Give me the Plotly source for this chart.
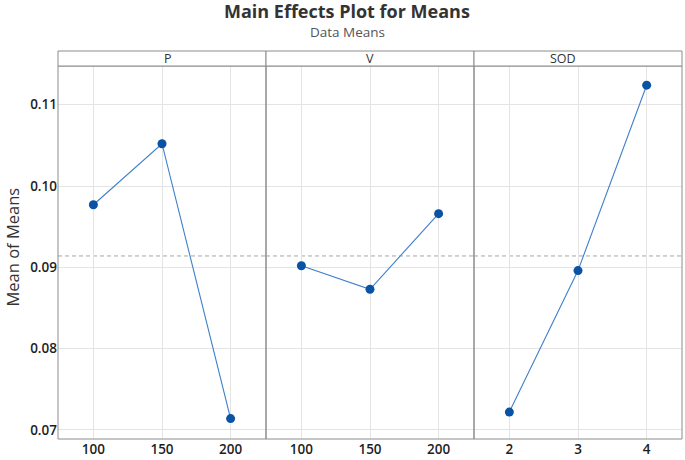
import plotly.graph_objects as go

factors = ["P", "V", "SOD"]
levels = {
    "P": [100, 150, 200],
    "V": [100, 150, 200],
    "SOD": [2, 3, 4],
}
means = {
    "P": [0.0977, 0.1052, 0.0714],
    "V": [0.0902, 0.0873, 0.0966],
    "SOD": [0.0722, 0.0896, 0.1124],
}
grand_mean = 0.0914
y_ticks = [0.07, 0.08, 0.09, 0.10, 0.11]
y_tick_text = ["0.07", "0.08", "0.09", "0.10", "0.11"]
x_ranges = {"P": [74.2, 225.8], "V": [74.2, 225.8], "SOD": [1.485, 4.515]}

W, H = 685, 460
ml, mr, mt, mb = 58, 3, 66, 21
plot_h = H - mt - mb
strip_h = 15

fig = go.Figure()
axis_col = "#8c8c8c"
grid_col = "#e4e4e4"
tick_font = dict(family="Open Sans", size=13.5, color="#1e1e1e", weight=600)

for i, f in enumerate(factors):
    xa = "x" if i == 0 else f"x{i+1}"
    ya = "y" if i == 0 else f"y{i+1}"
    fig.add_trace(go.Scatter(
        x=levels[f], y=means[f], mode="lines+markers",
        line=dict(color="#3f7fcc", width=1.1),
        marker=dict(color="#0a52a3", size=9),
        xaxis=xa, yaxis=ya, showlegend=False, hoverinfo="x+y",
    ))
    d0, d1 = i / 3, (i + 1) / 3
    xkey = "xaxis" if i == 0 else f"xaxis{i+1}"
    ykey = "yaxis" if i == 0 else f"yaxis{i+1}"
    fig.layout[xkey] = dict(
        domain=[d0, d1], range=x_ranges[f], anchor=ya,
        tickvals=levels[f], ticktext=[str(v) for v in levels[f]],
        showgrid=True, gridcolor=grid_col, gridwidth=1,
        showline=False, ticks="", tickfont=tick_font, zeroline=False,
    )
    fig.layout[ykey] = dict(
        domain=[0, 1], range=[0.06889, 0.11476], anchor=xa,
        tickvals=y_ticks, ticktext=y_tick_text,
        showgrid=True, gridcolor=grid_col, gridwidth=1,
        showline=False, ticks="", tickfont=tick_font, zeroline=False,
        showticklabels=(i == 0),
        **({} if i == 0 else {"matches": "y"}),
    )
    # panel frame
    fig.add_shape(type="rect", xref="paper", yref="paper",
                  x0=d0, x1=d1, y0=0, y1=1,
                  line=dict(color=axis_col, width=1), fillcolor="rgba(0,0,0,0)", layer="above")
    # header strip
    fig.add_shape(type="rect", xref="paper", yref="paper",
                  x0=d0, x1=d1, y0=1, y1=1 + strip_h / plot_h,
                  line=dict(color=axis_col, width=1), fillcolor="white", layer="above")
    fig.add_annotation(text=f, xref="paper", yref="paper",
                       x=(d0 + d1) / 2, y=1 + strip_h / plot_h / 2,
                       showarrow=False, yanchor="middle",
                       font=dict(family="Open Sans", size=12.5, color="#333333"))
    # grand mean reference line
    fig.add_shape(type="line", xref=f"{xa} domain", yref=ya,
                  x0=0, x1=1, y0=grand_mean, y1=grand_mean,
                  line=dict(color="#a6a6a6", width=1, dash="4px,3px"), layer="below")

fig.add_annotation(text="<b>Main Effects Plot for Means</b>", xref="paper", yref="paper",
                   x=(347 - ml) / (W - ml - mr), y=1 + (mt - 11) / plot_h,
                   showarrow=False, yanchor="middle",
                   font=dict(family="Open Sans", size=18, color="#333333"))
fig.add_annotation(text="Data Means", xref="paper", yref="paper",
                   x=(347 - ml) / (W - ml - mr), y=1 + (mt - 32) / plot_h,
                   showarrow=False, yanchor="middle",
                   font=dict(family="Open Sans", size=13.5, color="#555555"))
fig.add_annotation(text="Mean of Means", xref="paper", yref="paper",
                   x=-(ml - 12) / (W - ml - mr), y=0.5 + 5 / plot_h, textangle=-90,
                   showarrow=False, xanchor="center", yanchor="middle",
                   font=dict(family="Open Sans", size=16.5, color="#333333"))

fig.update_layout(
    width=W, height=H,
    margin=dict(l=ml, r=mr, t=mt, b=mb),
    paper_bgcolor="white", plot_bgcolor="white",
)

fig.write_html("out.html", config={"displayModeBar": False},
               post_script="document.body.style.margin='0';document.body.style.overflow='hidden';")
